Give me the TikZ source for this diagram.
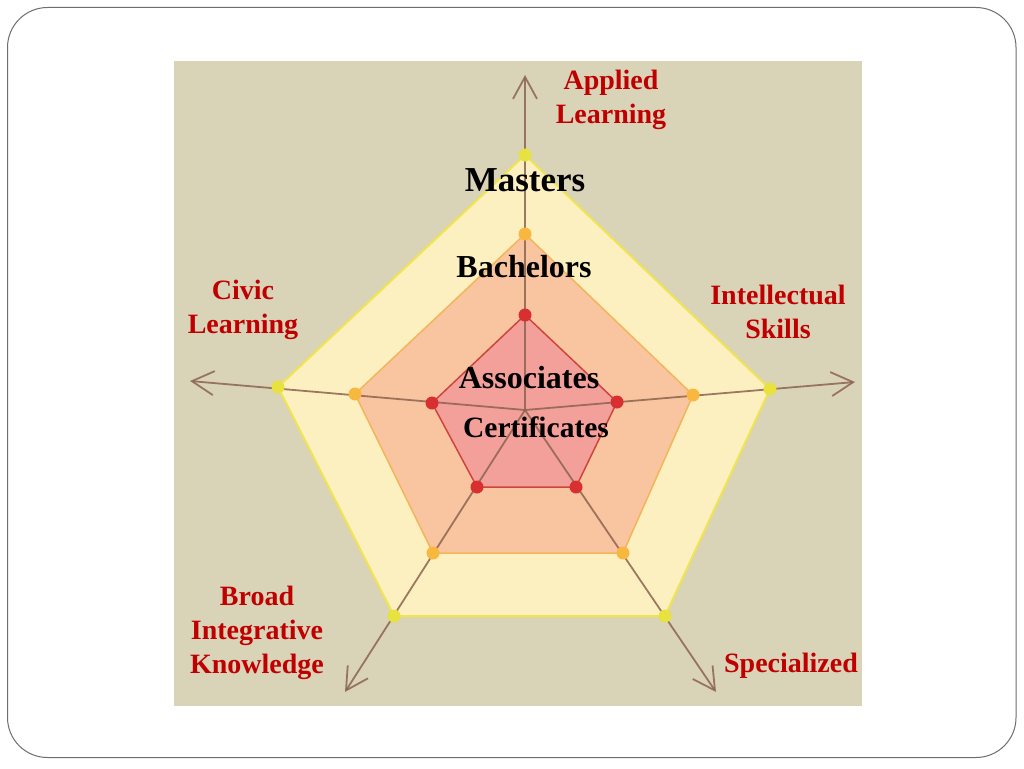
\documentclass[tikz,border=0pt]{standalone}
\usepackage{fontspec}
\setmainfont{Liberation Serif}
\usetikzlibrary{arrows.meta}
\definecolor{bgtan}{RGB}{217,211,184}
\definecolor{yfill}{RGB}{253,240,192}
\definecolor{yedge}{RGB}{240,228,80}
\definecolor{ydot}{RGB}{232,226,64}
\definecolor{ofill}{RGB}{249,196,160}
\definecolor{oedge}{RGB}{244,180,90}
\definecolor{odot}{RGB}{248,184,64}
\definecolor{rfill}{RGB}{244,160,154}
\definecolor{redge}{RGB}{205,70,60}
\definecolor{rdot}{RGB}{216,48,48}
\definecolor{axiscol}{RGB}{140,100,80}
\definecolor{labred}{RGB}{192,0,0}
\definecolor{framegray}{RGB}{110,110,110}
\tikzset{
  axisline/.style={draw=axiscol, line width=1.8pt, opacity=0.85, -{Straight Barb[length=22pt,width=24pt,line width=1.8pt]}},
  dotnode/.style={circle, inner sep=0pt, minimum size=13pt, draw=none},
  catlabel/.style={text=labred, font=\bfseries\fontsize{28}{34}\selectfont, align=center},
  levellabel/.style={text=black, font=\bfseries},
}
\begin{document}
\begin{tikzpicture}[x=1pt,y=-1pt]
\useasboundingbox (0,0) rectangle (1024,768);
\fill[white] (0,0) rectangle (1024,768);
\draw[framegray, line width=1pt, rounded corners=40pt] (7.5,7.5) rectangle (1016,757.5);
\fill[bgtan] (174,61) rectangle (862,706);

% coordinates
\coordinate (c) at (525,410);
\coordinate (tT) at (525,75);
\coordinate (tR) at (855,382);
\coordinate (tBR) at (716,692);
\coordinate (tBL) at (345,692);
\coordinate (tL) at (190,381);

\coordinate (yT) at (525,155);
\coordinate (yR) at (770,389);
\coordinate (yBR) at (665,616);
\coordinate (yBL) at (394,616);
\coordinate (yL) at (278,387);

\coordinate (oT) at (525,234);
\coordinate (oR) at (693,395);
\coordinate (oBR) at (623,553);
\coordinate (oBL) at (433,553);
\coordinate (oL) at (355,394);

\coordinate (rT) at (525,315);
\coordinate (rR) at (617,402);
\coordinate (rBR) at (576,487);
\coordinate (rBL) at (477,487);
\coordinate (rL) at (432,403);

% pentagons
\filldraw[fill=yfill, draw=yedge, line width=2pt, line join=round] (yT) -- (yR) -- (yBR) -- (yBL) -- (yL) -- cycle;
\filldraw[fill=ofill, draw=oedge, line width=1.5pt, line join=round] (oT) -- (oR) -- (oBR) -- (oBL) -- (oL) -- cycle;
\filldraw[fill=rfill, draw=redge, line width=1.5pt, line join=round] (rT) -- (rR) -- (rBR) -- (rBL) -- (rL) -- cycle;

% axes
\draw[axisline] (c) -- (tT);
\draw[axisline] (c) -- (tR);
\draw[axisline] (c) -- (tBR);
\draw[axisline] (c) -- (tBL);
\draw[axisline] (c) -- (tL);

% dots
\foreach \p in {yT,yR,yBR,yBL,yL} \node[dotnode, fill=ydot] (d\p) at (\p) {};
\foreach \p in {oT,oR,oBR,oBL,oL} \node[dotnode, fill=odot] (d\p) at (\p) {};
\foreach \p in {rT,rR,rBR,rBL,rL} \node[dotnode, fill=rdot] (d\p) at (\p) {};

% level labels
\node[levellabel, font=\bfseries\fontsize{35}{40}\selectfont] (masters) at (525,180) {Masters};
\node[levellabel, font=\bfseries\fontsize{32}{36}\selectfont] (bachelors) at (524,267) {Bachelors};
\node[levellabel, font=\bfseries\fontsize{32}{36}\selectfont] (associates) at (529,378) {Associates};
\node[levellabel, font=\bfseries\fontsize{29.5}{34}\selectfont] (certificates) at (536,427) {Certificates};

% category labels
\node[catlabel] (applied) at (611,100) {Applied\\Learning};
\node[catlabel] (civic) at (243,310) {Civic\\Learning};
\node[catlabel] (intellectual) at (778,312) {Intellectual\\Skills};
\node[catlabel] (broad) at (257,633) {Broad\\Integrative\\Knowledge};
\node[catlabel] (specialized) at (791,666) {Specialized};
\end{tikzpicture}
\end{document}
